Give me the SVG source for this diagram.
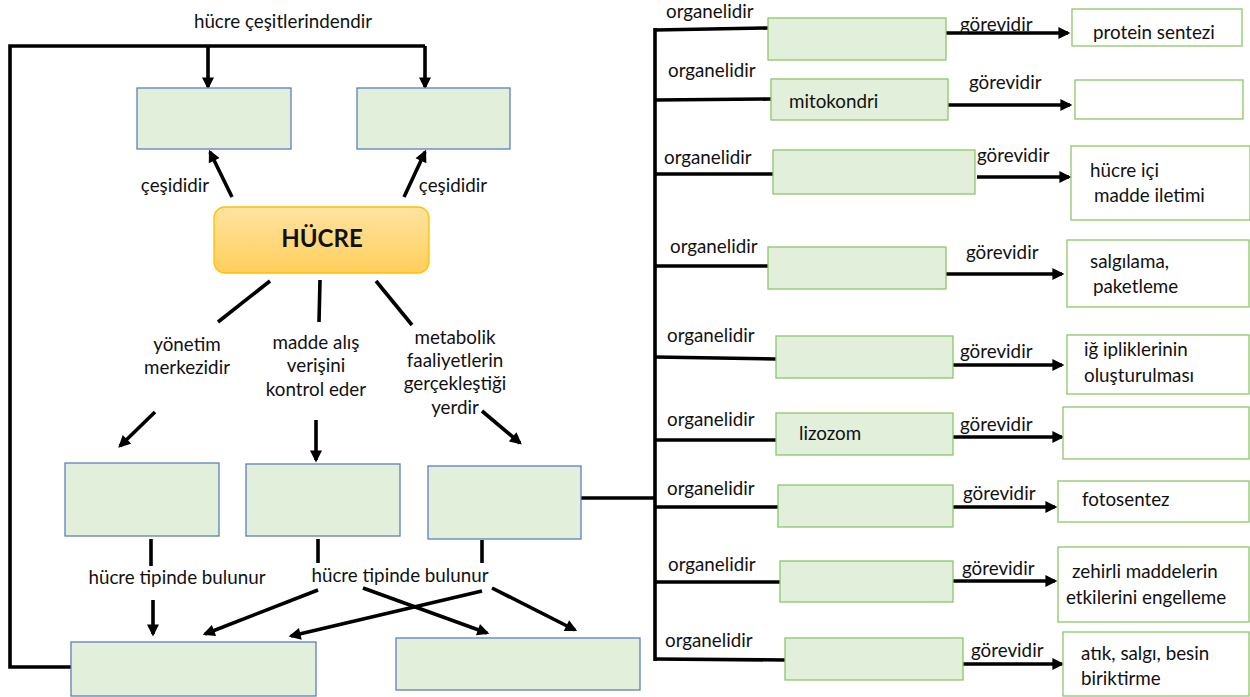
<svg xmlns="http://www.w3.org/2000/svg" width="1250" height="697" viewBox="0 0 1250 697">
<style>
text{font-family:Lato,"Liberation Sans",sans-serif;font-size:18.8px;fill:#111}
.bl{fill:#e2efda;stroke:#5b7fbf;stroke-width:1.3}
.gr{fill:#e2efda;stroke:#8cc66a;stroke-width:1.3}
.wh{fill:#fff;stroke:#8cc66a;stroke-width:1.3}
.ln{stroke:#000;stroke-width:3.6;fill:none}
.ar{stroke:#000;stroke-width:3.6;fill:none;marker-end:url(#ah)}
</style>
<defs>
<marker id="ah" viewBox="0 0 10 10" refX="8" refY="5" markerWidth="13" markerHeight="12" markerUnits="userSpaceOnUse" orient="auto">
<path d="M0,0 L10,5 L0,10 z" fill="#000"/>
</marker>
<linearGradient id="og" x1="0" y1="0" x2="0" y2="1">
<stop offset="0" stop-color="#ffe3a3"/>
<stop offset="1" stop-color="#ffcf5a"/>
</linearGradient>
</defs>
<g id="connectors">
<polyline class="ln" points="71,667 10,667 10,46 425,46"/>
<line class="ar" x1="208" y1="46" x2="208" y2="87"/>
<line class="ar" x1="425" y1="46" x2="425" y2="87"/>
<line class="ar" x1="232" y1="197" x2="210" y2="152"/>
<line class="ar" x1="404" y1="197" x2="425" y2="152"/>
<line class="ln" x1="270" y1="281" x2="218" y2="322"/>
<line class="ln" x1="320" y1="280" x2="319" y2="322"/>
<line class="ln" x1="376" y1="281" x2="412" y2="325"/>
<line class="ar" x1="155" y1="412" x2="120" y2="446"/>
<line class="ar" x1="316" y1="420" x2="316" y2="460"/>
<line class="ar" x1="482" y1="411" x2="520" y2="443"/>
<line class="ln" x1="151" y1="539" x2="151" y2="566"/>
<line class="ln" x1="318" y1="539" x2="318" y2="563"/>
<line class="ln" x1="482" y1="540" x2="482" y2="563"/>
<line class="ar" x1="153" y1="600" x2="153" y2="634"/>
<line class="ar" x1="318" y1="590" x2="205" y2="634"/>
<line class="ar" x1="482" y1="591" x2="291" y2="636"/>
<line class="ar" x1="363" y1="588" x2="487" y2="633"/>
<line class="ar" x1="492" y1="588" x2="575" y2="630"/>
<line class="ln" x1="581" y1="498" x2="655" y2="498"/>
<line class="ln" x1="655" y1="28" x2="655" y2="661"/>
<line class="ln" x1="655" y1="30" x2="768" y2="28"/>
<line class="ln" x1="655" y1="100" x2="771" y2="99"/>
<line class="ln" x1="655" y1="174" x2="773" y2="174"/>
<line class="ln" x1="655" y1="266" x2="768" y2="266"/>
<line class="ln" x1="655" y1="357" x2="776" y2="359"/>
<line class="ln" x1="655" y1="440" x2="776" y2="440"/>
<line class="ln" x1="655" y1="507" x2="778" y2="507"/>
<line class="ln" x1="655" y1="582" x2="780" y2="582"/>
<line class="ln" x1="655" y1="659" x2="785" y2="660"/>
<line class="ar" x1="946" y1="33" x2="1068" y2="33"/>
<line class="ar" x1="948" y1="105" x2="1070" y2="105"/>
<line class="ar" x1="977" y1="177" x2="1069" y2="177"/>
<line class="ar" x1="946" y1="274" x2="1062" y2="274"/>
<line class="ar" x1="953" y1="365" x2="1062" y2="365"/>
<line class="ar" x1="953" y1="437" x2="1062" y2="437"/>
<line class="ar" x1="953" y1="507" x2="1055" y2="507"/>
<line class="ar" x1="953" y1="581" x2="1055" y2="581"/>
<line class="ar" x1="963" y1="664" x2="1062" y2="664"/>
</g>
<g id="labels">
<text x="283" y="28" text-anchor="middle">hücre çeşitlerindendir</text>
<text x="175" y="192" text-anchor="middle">çeşididir</text>
<text x="453" y="192" text-anchor="middle">çeşididir</text>
<text x="187" y="351" text-anchor="middle">yönetim</text>
<text x="187" y="374" text-anchor="middle">merkezidir</text>
<text x="316" y="349" text-anchor="middle">madde alış</text>
<text x="316" y="372" text-anchor="middle">verişini</text>
<text x="316" y="396" text-anchor="middle">kontrol eder</text>
<text x="455" y="344" text-anchor="middle">metabolik</text>
<text x="455" y="367" text-anchor="middle">faaliyetlerin</text>
<text x="455" y="390" text-anchor="middle">gerçekleştiği</text>
<text x="455" y="414" text-anchor="middle">yerdir</text>
<text x="177" y="584" text-anchor="middle">hücre tipinde bulunur</text>
<text x="400" y="582" text-anchor="middle">hücre tipinde bulunur</text>
<text x="666" y="18">organelidir</text>
<text x="668" y="77">organelidir</text>
<text x="664" y="164">organelidir</text>
<text x="670" y="253">organelidir</text>
<text x="667" y="342">organelidir</text>
<text x="667" y="426">organelidir</text>
<text x="667" y="495">organelidir</text>
<text x="668" y="571">organelidir</text>
<text x="665" y="647">organelidir</text>
<text x="960" y="31">görevidir</text>
<text x="969" y="89">görevidir</text>
<text x="977" y="162">görevidir</text>
<text x="966" y="259">görevidir</text>
<text x="960" y="358">görevidir</text>
<text x="960" y="431">görevidir</text>
<text x="963" y="500">görevidir</text>
<text x="962" y="575">görevidir</text>
<text x="971" y="657">görevidir</text>
</g>
<g id="n-top1"><rect class="bl" x="137" y="88" width="154" height="61"/></g>
<g id="n-top2"><rect class="bl" x="357" y="88" width="153" height="61"/></g>
<g id="n-hucre"><rect x="214" y="207" width="215" height="66" rx="11" fill="url(#og)" stroke="#ffc000" stroke-width="1.3"/>
<text x="322" y="247" text-anchor="middle" style="font-weight:bold;font-size:24px">HÜCRE</text></g>
<g id="n-mid1"><rect class="bl" x="65" y="463" width="154" height="73"/></g>
<g id="n-mid2"><rect class="bl" x="246" y="464" width="154" height="72"/></g>
<g id="n-mid3"><rect class="bl" x="428" y="466" width="153" height="73"/></g>
<g id="n-bot1"><rect class="bl" x="71" y="642" width="245" height="54"/></g>
<g id="n-bot2"><rect class="bl" x="396" y="638" width="244" height="52"/></g>
<g id="o1"><rect class="gr" x="768" y="18" width="178" height="42"/></g>
<g id="o2"><rect class="gr" x="771" y="79" width="177" height="41"/><text x="789" y="108">mitokondri</text></g>
<g id="o3"><rect class="gr" x="773" y="150" width="202" height="44"/></g>
<g id="o4"><rect class="gr" x="768" y="247" width="178" height="42"/></g>
<g id="o5"><rect class="gr" x="776" y="336" width="177" height="42"/></g>
<g id="o6"><rect class="gr" x="776" y="413" width="177" height="42"/><text x="799" y="440">lizozom</text></g>
<g id="o7"><rect class="gr" x="778" y="485" width="175" height="42"/></g>
<g id="o8"><rect class="gr" x="780" y="561" width="173" height="41"/></g>
<g id="o9"><rect class="gr" x="785" y="638" width="178" height="42"/></g>
<g id="f1"><rect class="wh" x="1072" y="9" width="170" height="37"/><text x="1093" y="39">protein sentezi</text></g>
<g id="f2"><rect class="wh" x="1075" y="80" width="168" height="39"/></g>
<g id="f3"><rect class="wh" x="1071" y="146" width="179" height="74"/><text x="1090" y="177">hücre içi</text><text x="1094" y="202">madde iletimi</text></g>
<g id="f4"><rect class="wh" x="1067" y="240" width="182" height="67"/><text x="1090" y="268">salgılama,</text><text x="1093" y="293">paketleme</text></g>
<g id="f5"><rect class="wh" x="1067" y="335" width="182" height="59"/><text x="1084" y="356">iğ ipliklerinin</text><text x="1084" y="382">oluşturulması</text></g>
<g id="f6"><rect class="wh" x="1063" y="407" width="186" height="52"/></g>
<g id="f7"><rect class="wh" x="1058" y="481" width="191" height="41"/><text x="1082" y="506">fotosentez</text></g>
<g id="f8"><rect class="wh" x="1058" y="547" width="191" height="75"/><text x="1072" y="578">zehirli maddelerin</text><text x="1066" y="604">etkilerini engelleme</text></g>
<g id="f9"><rect class="wh" x="1063" y="632" width="186" height="64"/><text x="1081" y="660">atık, salgı, besin</text><text x="1081" y="685">biriktirme</text></g>
</svg>
